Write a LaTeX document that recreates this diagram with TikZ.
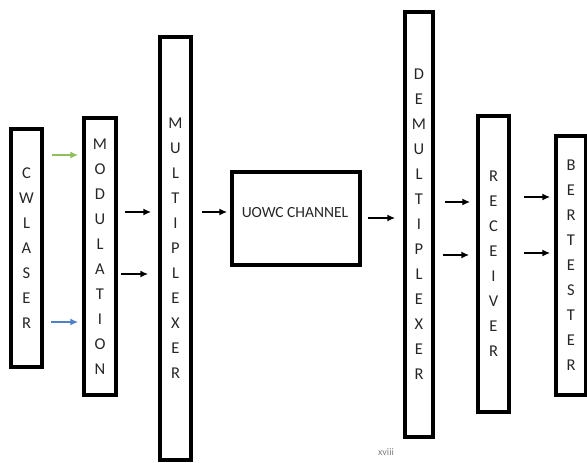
\documentclass[tikz,border=0pt]{standalone}
\usepackage{fontspec}
\setmainfont{Carlito}
\usetikzlibrary{arrows.meta}
\definecolor{txt}{HTML}{262626}
\definecolor{grn}{HTML}{8FBF5A}
\definecolor{blu}{HTML}{4F81C7}
\tikzset{
  blk/.style={draw=black, line width=3.5pt, inner sep=0pt, align=center, text=txt,
    font=\fontsize{16.5}{25}\selectfont},
  arr/.style={line width=1.6pt, -{Latex[length=8pt,width=7pt]}},
}
\begin{document}
\begin{tikzpicture}[x=1pt,y=-1pt]
\useasboundingbox (0,0) rectangle (587,463);
\node[blk, minimum width=31pt, minimum height=238pt] (cw) at (26.5,248) {C\\W\\L\\A\\S\\E\\R};
\node[blk, minimum width=32pt, minimum height=277pt] (mod) at (100,256.5) {M\\O\\D\\U\\L\\A\\T\\I\\O\\N};
\node[blk, minimum width=31pt, minimum height=423pt] (mux) at (175.5,248.5) {M\\U\\L\\T\\I\\P\\L\\E\\X\\E\\R};
\node[blk, minimum width=128pt, minimum height=93pt] (uowc) at (296,218.5) {};
\node[text=txt, font=\fontsize{15.5}{18}\selectfont, inner sep=0pt] (uowct) at (295,213) {UOWC CHANNEL};
\node[blk, minimum width=28pt, minimum height=425pt] (demux) at (419,224.5) {D\\E\\M\\U\\L\\T\\I\\P\\L\\E\\X\\E\\R};
\node[blk, minimum width=31pt, minimum height=296pt] (recv) at (493.5,264) {R\\E\\C\\E\\I\\V\\E\\R};
\node[blk, minimum width=30pt, minimum height=259pt] (ber) at (571,265.5) {B\\E\\R\\T\\E\\S\\T\\E\\R};
\node[text=gray, font=\fontsize{10}{12}\selectfont, inner sep=0pt] (pg) at (386,452) {xviii};
\coordinate (ya) at (0,155);
\coordinate (yb) at (0,322);
\coordinate (yc) at (0,212);
\coordinate (yd) at (0,274);
\coordinate (ye) at (0,218);
\coordinate (yf) at (0,202);
\coordinate (yg) at (0,255);
\coordinate (yh) at (0,197);
\coordinate (yi) at (0,253);
\draw[arr, draw=grn, shorten <=8pt, shorten >=4pt] (cw.east |- ya) -- (mod.west |- ya);
\draw[arr, draw=blu, shorten <=7pt, shorten >=4pt] (cw.east |- yb) -- (mod.west |- yb);
\draw[arr, shorten <=7pt, shorten >=7pt] (mod.east |- yc) -- (mux.west |- yc);
\draw[arr, shorten <=3pt, shorten >=10pt] (mod.east |- yd) -- (mux.west |- yd);
\draw[arr, shorten <=9pt, shorten >=3pt] (mux.east |- yc) -- (uowc.west |- yc);
\draw[arr, shorten <=6pt, shorten >=8pt] (uowc.east |- ye) -- (demux.west |- ye);
\draw[arr, shorten <=10pt, shorten >=6pt] (demux.east |- yf) -- (recv.west |- yf);
\draw[arr, shorten <=8pt, shorten >=7pt] (demux.east |- yg) -- (recv.west |- yg);
\draw[arr, shorten <=13pt, shorten >=4pt] (recv.east |- yh) -- (ber.west |- yh);
\draw[arr, shorten <=13pt, shorten >=4pt] (recv.east |- yi) -- (ber.west |- yi);
\end{tikzpicture}
\end{document}
